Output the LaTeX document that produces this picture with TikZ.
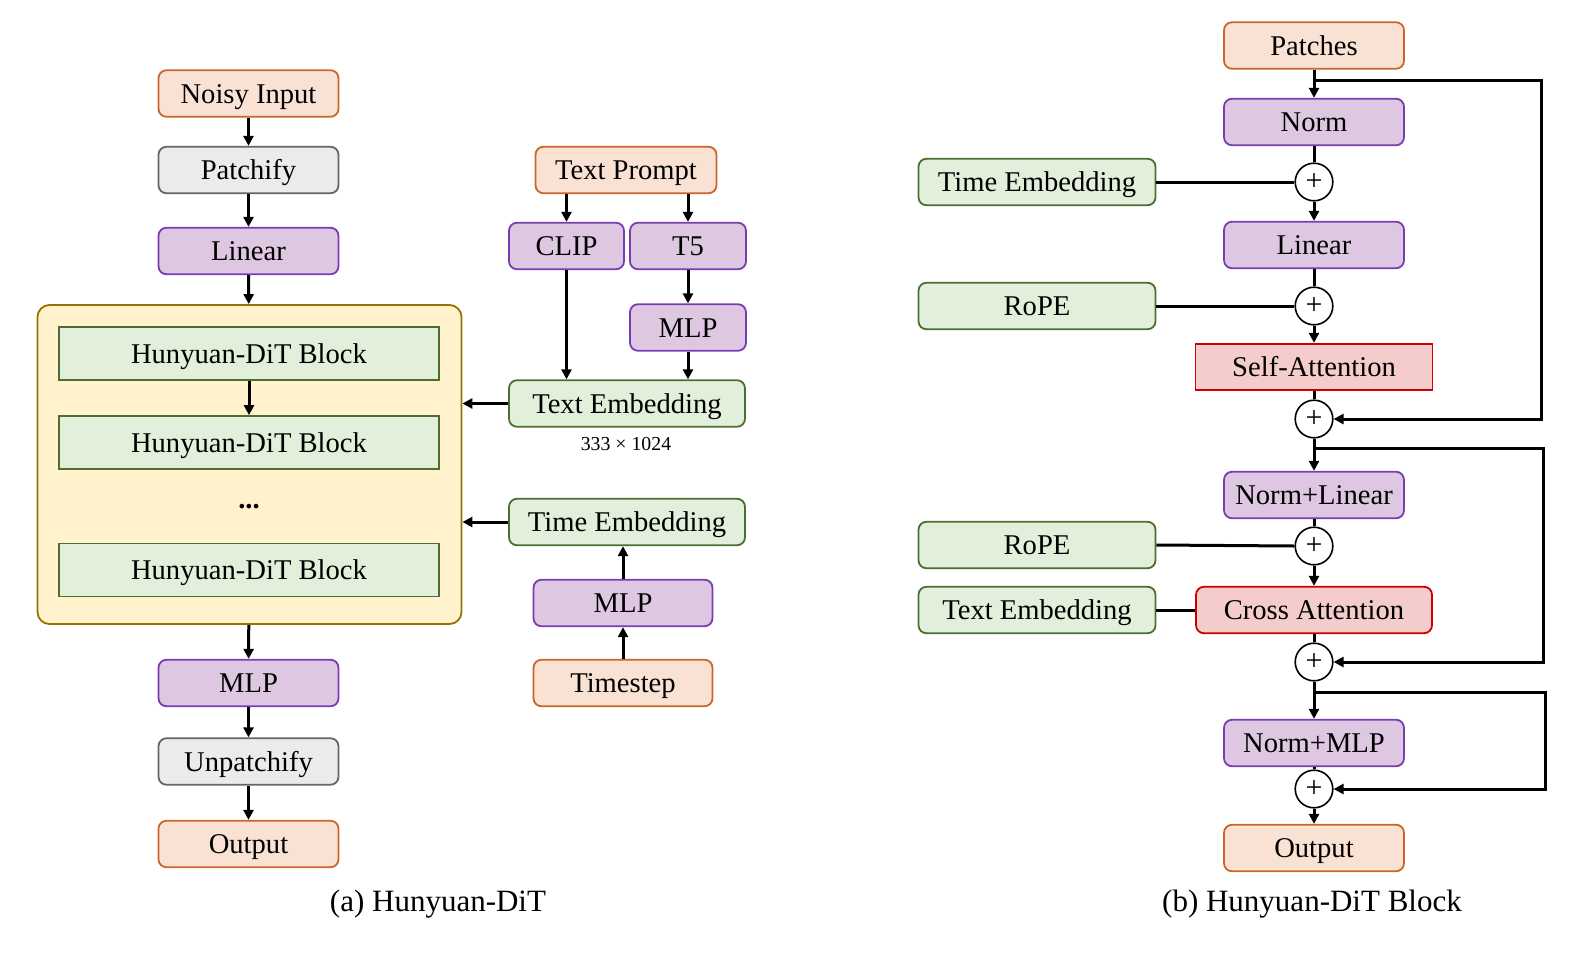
\documentclass[tikz,border=0pt]{standalone}
\usepackage{fontspec}
\setmainfont{Liberation Serif}
\usetikzlibrary{arrows.meta}
\definecolor{inpfill}{RGB}{249,226,211}
\definecolor{inpline}{RGB}{204,102,40}
\definecolor{grayfill}{RGB}{235,235,235}
\definecolor{grayline}{RGB}{102,102,102}
\definecolor{opfill}{RGB}{222,199,224}
\definecolor{opline}{RGB}{122,60,180}
\definecolor{embfill}{RGB}{226,239,218}
\definecolor{embline}{RGB}{78,110,48}
\definecolor{attfill}{RGB}{244,204,204}
\definecolor{attline}{RGB}{204,0,0}
\definecolor{stackfill}{RGB}{255,242,204}
\definecolor{stackline}{RGB}{150,115,0}
\tikzset{
  box/.style={draw,line width=1.8pt,rounded corners=8pt,minimum width=180pt,minimum height=46.5pt,inner sep=0pt,
    text height=22pt,text depth=3pt,font=\fontsize{28.6}{30}\selectfont},
  inp/.style={box,draw=inpline,fill=inpfill},
  gry/.style={box,draw=grayline,fill=grayfill},
  op/.style={box,draw=opline,fill=opfill},
  emb/.style={box,draw=embline,fill=embfill},
  att/.style={box,draw=attline,fill=attfill},
  dit/.style={box,draw=embline,fill=embfill,rounded corners=0pt,minimum width=380pt,minimum height=53pt},
  stack/.style={draw=stackline,fill=stackfill,line width=1.8pt,rounded corners=12pt,minimum width=424pt,minimum height=319pt},
  sum/.style={draw,circle,fill=white,line width=1.6pt,minimum size=37.6pt,inner sep=0pt,font=\fontsize{30}{30}\selectfont},
  arr/.style={line width=3pt,-{Triangle[length=10pt,width=10pt]}},
  ln/.style={line width=3pt},
  capt/.style={font=\fontsize{31}{33}\selectfont},
  tiny/.style={font=\fontsize{19.8}{21}\selectfont},
}
\begin{document}
\begin{tikzpicture}[x=1pt,y=-1pt]
  \useasboundingbox (0,0) rectangle (1594,972);
  \node[inp] (noisy) at (248.5,93.5) {Noisy Input};
  \node[gry] (patchify) at (248.5,170) {Patchify};
  \node[op] (linA) at (248.5,251) {Linear};
  \node[stack] (stack) at (249.5,464.5) {};
  \node[dit] (blkA) at (249,353.5) {Hunyuan-DiT Block};
  \node[dit] (blkB) at (249,442.5) {Hunyuan-DiT Block};
  \node[font=\fontsize{28.6}{30}\selectfont,anchor=base] (dots) at (249,508) {\textbf{...}};
  \node[dit] (blkC) at (249,570) {Hunyuan-DiT Block};
  \node[op] (mlpA) at (248.5,683) {MLP};
  \node[gry] (unpatch) at (248.5,761.5) {Unpatchify};
  \node[inp] (outA) at (248.5,844) {Output};
  \node[capt] (capA) at (438,904) {(a) Hunyuan-DiT};
  \draw[arr] (noisy) -- (patchify);
  \draw[arr] (patchify) -- (linA);
  \draw[arr] (linA) -- (stack);
  \draw[arr] (blkA) -- (blkB);
  \draw[arr] (stack) -- (mlpA);
  \draw[arr] (mlpA) -- (unpatch);
  \draw[arr] (unpatch) -- (outA);
  \node[inp,minimum width=181pt] (prompt) at (626,170) {Text Prompt};
  \node[op,minimum width=115pt] (clip) at (566.5,246) {CLIP};
  \node[op,minimum width=116pt] (tfive) at (688,246) {T5};
  \node[op,minimum width=116pt] (mlpT) at (688,327.5) {MLP};
  \node[emb,minimum width=236pt] (txtA) at (627,403.5) {Text Embedding};
  \node[tiny] (dimA) at (626,444) {333 × 1024};
  \node[emb,minimum width=236pt] (timeA) at (627,522) {Time Embedding};
  \node[op,minimum width=179pt] (mlpB) at (623,603) {MLP};
  \node[inp,minimum width=179pt] (tstep) at (623,683) {Timestep};
  \draw[arr] (clip.north |- prompt.south) -- (clip.north);
  \draw[arr] (tfive.north |- prompt.south) -- (tfive.north);
  \draw[arr] (clip.south) -- (clip.south |- txtA.north);
  \draw[arr] (tfive) -- (mlpT);
  \draw[arr] (mlpT) -- (mlpT.south |- txtA.north);
  \draw[arr] (txtA.west) -- (txtA.west -| stack.east);
  \draw[arr] (timeA.west) -- (timeA.west -| stack.east);
  \draw[arr] (tstep) -- (mlpB);
  \draw[arr] (mlpB.north) -- (mlpB.north |- timeA.south);
  \node[inp] (patches) at (1314,45.5) {Patches};
  \node[op] (norm) at (1314,122) {Norm};
  \node[sum] (sumA) at (1314,182) {+};
  \node[emb,minimum width=237pt] (timeB) at (1037,182) {Time Embedding};
  \node[op] (linB) at (1314,245) {Linear};
  \node[sum] (sumB) at (1314,306) {+};
  \node[emb,minimum width=237pt] (ropeA) at (1037,306) {RoPE};
  \node[att,rounded corners=0pt,minimum width=237pt] (selfatt) at (1314,367) {Self-Attention};
  \node[sum] (sumC) at (1314,419) {+};
  \node[op] (nlin) at (1314,495) {Norm+Linear};
  \node[sum] (sumD) at (1314,546) {+};
  \node[emb,minimum width=237pt] (ropeB) at (1037,545) {RoPE};
  \node[att,minimum width=236pt] (cross) at (1314,610) {Cross Attention};
  \node[emb,minimum width=237pt] (txtB) at (1037,610) {Text Embedding};
  \node[sum] (sumE) at (1314,662) {+};
  \node[op] (nmlp) at (1314,743) {Norm+MLP};
  \node[sum] (sumF) at (1314,789) {+};
  \node[inp] (outB) at (1314,848) {Output};
  \node[capt] (capB) at (1312,904) {(b) Hunyuan-DiT Block};
  \coordinate (skA) at (1541,80);
  \coordinate (skB) at (1543,448);
  \coordinate (skC) at (1545,692);
  \draw[arr] (patches) -- (norm);
  \draw[ln] (norm) -- (sumA);
  \draw[ln] (timeB) -- (sumA);
  \draw[arr] (sumA) -- (linB);
  \draw[ln] (linB) -- (sumB);
  \draw[ln] (ropeA.east) -- (sumB.west);
  \draw[arr] (sumB) -- (selfatt);
  \draw[ln] (selfatt) -- (sumC);
  \draw[arr] (patches.south |- skA) -- (skA) |- (sumC.east);
  \draw[arr] (sumC) -- (nlin);
  \draw[arr] (sumC.south |- skB) -- (skB) |- (sumE.east);
  \draw[ln] (nlin) -- (sumD);
  \draw[ln] (ropeB.east) -- (sumD.west);
  \draw[arr] (sumD) -- (cross);
  \draw[ln] (txtB) -- (cross);
  \draw[ln] (cross) -- (sumE);
  \draw[arr] (sumE) -- (nmlp);
  \draw[arr] (sumE.south |- skC) -- (skC) |- (sumF.east);
  \draw[ln] (nmlp) -- (sumF);
  \draw[arr] (sumF) -- (outB);
\end{tikzpicture}
\end{document}
